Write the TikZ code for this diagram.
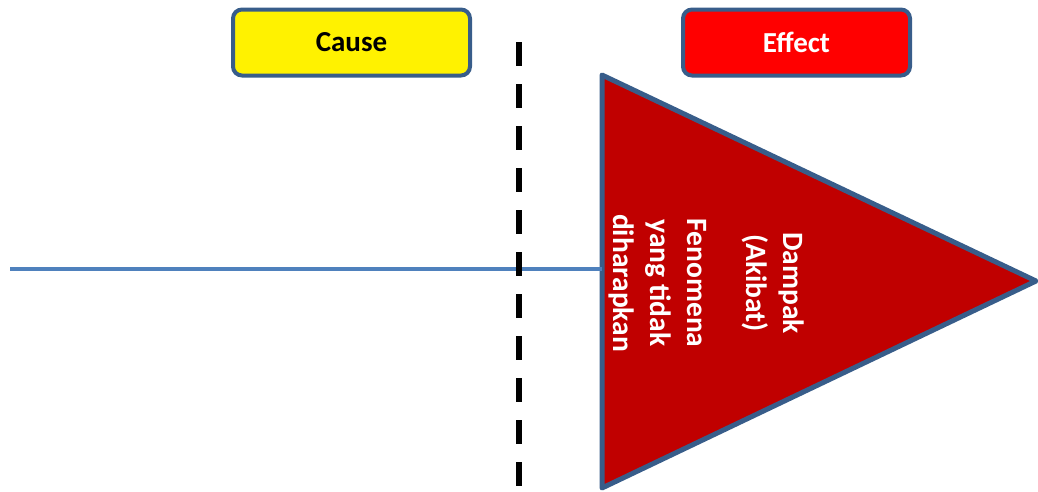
\documentclass[tikz,border=0pt]{standalone}
\usepackage{fontspec}
\setmainfont{Carlito}
\definecolor{boxEdge}{HTML}{385D8A}
\definecolor{axisBlue}{HTML}{4F81BD}
\definecolor{darkRed}{HTML}{C00000}
\begin{document}
\begin{tikzpicture}[x=1pt,y=-1pt,
    fishBox/.style={draw=boxEdge,line width=4pt,rounded corners=9pt,minimum height=66pt,font=\fontsize{29}{34}\selectfont\bfseries},
    fishAxis/.style={axisBlue,line width=4pt},
    fishDivide/.style={line width=6pt,dash pattern=on 24pt off 18pt},
    fishHead/.style={draw=boxEdge,line width=5pt,line join=round},
]
\useasboundingbox (0,0) rectangle (1038,491);
% Header boxes
\node[fishBox,fill=yellow,minimum width=237pt] (cause) at (351.5,42.5) {Cause};
\node[fishBox,fill=red,text=white,minimum width=227pt] (effect) at (796.5,42.5) {Effect};
% Fish head
\coordinate (headTop) at (602,75);
\coordinate (headBot) at (602,488);
\coordinate (headTip) at (1036,281);
\coordinate (tail) at (10,268.5);
\fill[darkRed] (headTop) -- (headTip) -- (headBot) -- cycle;
\node[rotate=-90,align=center,text=white,font=\fontsize{29.5}{37}\selectfont\bfseries] (effectText) at (707,283)
    {Dampak\\(Akibat)\\[22pt]Fenomena\\yang tidak\\diharapkan};
\draw[fishHead] (headTop) -- (headTip) -- (headBot) -- cycle;
% Spine
\draw[fishAxis] (tail) -- (tail -| headTop);
% Divider
\draw[fishDivide] (519,42) -- (519,491);
\end{tikzpicture}
\end{document}
